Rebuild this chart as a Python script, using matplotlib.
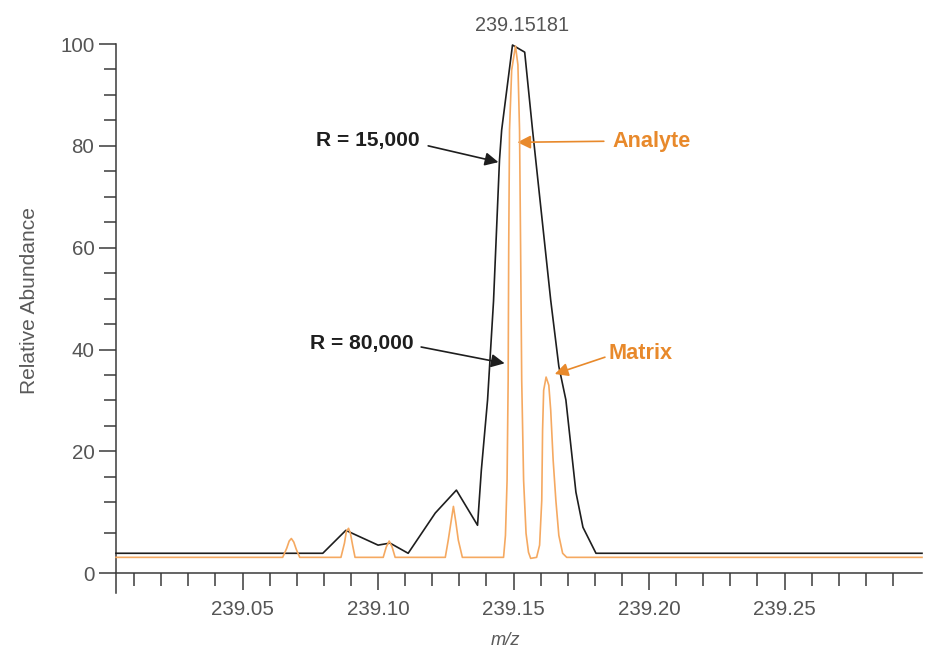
import matplotlib
matplotlib.use("Agg")
import matplotlib.pyplot as plt
from matplotlib import font_manager

# Font: narrow sans if installed, otherwise plain Liberation Sans a bit smaller
available = {f.name for f in font_manager.fontManager.ttflist}
if "Liberation Sans Narrow" in available:
    FONT, SCALE = "Liberation Sans Narrow", 1.0
else:
    FONT, SCALE = "Liberation Sans", 0.82
plt.rcParams["font.family"] = [FONT, "DejaVu Sans"]

# R = 15,000 trace (black)
mz_low = [239.0033, 239.0796, 239.0881, 239.1000, 239.1044, 239.1111, 239.1211,
          239.1289, 239.1367, 239.1381, 239.1404, 239.1426, 239.1448, 239.1456,
          239.1496, 239.1541, 239.1570, 239.1637, 239.1667, 239.1693, 239.1730,
          239.1756, 239.1804, 239.3007]
ab_low = [0.0, 0.0, 4.5, 1.6, 2.0, 0.0, 7.9,
          12.4, 5.5, 16.3, 30.1, 49.5, 77.2, 83.1,
          99.8, 98.4, 83.1, 49.7, 36.7, 30.1, 12.0,
          5.1, 0.0, 0.0]

# R = 80,000 trace (orange)
mz_high = [239.0033,
           239.0648, 239.0663, 239.0672, 239.0680, 239.0689, 239.0698, 239.0711,
           239.0863, 239.0876, 239.0883, 239.0891, 239.0898, 239.0906, 239.0915,
           239.1019, 239.1030, 239.1041, 239.1052, 239.1063,
           239.1248, 239.1259, 239.1269, 239.1278, 239.1287, 239.1296, 239.1311,
           239.1463, 239.1470, 239.1476, 239.1480, 239.1482, 239.1485, 239.1493,
           239.1507, 239.1516, 239.1522, 239.1526, 239.1530, 239.1537, 239.1546,
           239.1555, 239.1563,
           239.1585, 239.1596, 239.1604, 239.1607, 239.1611, 239.1620, 239.1630,
           239.1637, 239.1646, 239.1656, 239.1667, 239.1681, 239.1696,
           239.3007]
ab_high = [-0.8,
           -0.8, 1.0, 2.4, 2.9, 2.2, 0.8, -0.8,
           -0.8, 2.0, 4.3, 4.9, 3.9, 1.6, -0.8,
           -0.8, 1.2, 2.4, 1.2, -0.8,
           -0.8, 2.6, 6.1, 9.2, 6.1, 2.6, -0.8,
           -0.8, 3.5, 14.3, 34.0, 59.5, 83.1, 94.9,
           99.6, 95.9, 83.1, 59.5, 34.0, 14.3, 3.9,
           0.2, -1.0,
           -0.8, 1.6, 10.4, 24.2, 32.0, 34.6, 33.0,
           28.1, 18.3, 10.4, 3.5, 0.0, -0.8,
           -0.8]

x_major = [239.05, 239.10, 239.15, 239.20, 239.25]
x_major_labels = ["239.05", "239.10", "239.15", "239.20", "239.25"]
x_minor = [239.01, 239.02, 239.03, 239.04, 239.06, 239.07, 239.08, 239.09,
           239.11, 239.12, 239.13, 239.14, 239.16, 239.17, 239.18, 239.19,
           239.21, 239.22, 239.23, 239.24, 239.26, 239.27, 239.28, 239.29]
y_major = [-3.9, 20, 40, 60, 80, 100]
y_major_labels = ["0", "20", "40", "60", "80", "100"]
y_minor = [4, 10, 15, 25, 30, 35, 45, 50, 55, 65, 70, 75, 85, 90, 95]

peak_label = "239.15181"

colors = {
    "low": "#1e1e1e",
    "high": "#f5a961",
    "orange_text": "#e8892b",
    "axis": "#3a3a3a",
    "tick_text": "#555555",
}

fig = plt.figure(figsize=(9.35, 6.56), dpi=100)
ax = fig.add_axes([116 / 935, 63 / 656, 806 / 935, 549 / 656])

ax.plot(mz_low, ab_low, color=colors["low"], lw=1.2, zorder=3, clip_on=False)
ax.plot(mz_high, ab_high, color=colors["high"], lw=1.2, zorder=4, clip_on=False)

ax.set_xlim(239.0033, 239.3007)
ax.set_ylim(-7.8, 100)

for side in ("top", "right"):
    ax.spines[side].set_visible(False)
ax.spines["bottom"].set_position(("data", -3.9))
for side in ("left", "bottom"):
    ax.spines[side].set_color(colors["axis"])
    ax.spines[side].set_linewidth(1.1)

ax.set_xticks(x_major)
ax.set_xticklabels(x_major_labels)
ax.set_xticks(x_minor, minor=True)
ax.set_yticks(y_major)
ax.set_yticklabels(y_major_labels)
ax.set_yticks(y_minor, minor=True)
ax.tick_params(which="major", direction="out", length=12.5, width=1.1,
               color=colors["axis"], labelcolor=colors["tick_text"],
               labelsize=18 * SCALE)
ax.tick_params(which="minor", direction="out", length=9, width=1.1,
               color=colors["axis"])
ax.tick_params(axis="x", which="major", pad=7)
ax.tick_params(axis="y", which="major", pad=3)

ax.set_ylabel("Relative Abundance", fontsize=18.5 * SCALE, color="#5a5a5a")
ax.yaxis.set_label_coords(-0.0955, 0.532)
ax.set_xlabel("m/z", fontsize=16 * SCALE, style="italic", color="#5a5a5a",
              va="center")
ax.xaxis.set_label_coords(0.4826, -0.0874)

# Peak label
ax.text(239.1530, 103.7, peak_label, ha="center", va="center",
        fontsize=17.5 * SCALE, color="#555555")

# Annotations
black_arrow = dict(arrowstyle="-|>", lw=1.2, color=colors["low"],
                   mutation_scale=20, shrinkA=0, shrinkB=0)
orange_arrow = dict(arrowstyle="-|>", lw=1.2, color=colors["orange_text"],
                    mutation_scale=20, shrinkA=0, shrinkB=0)

ax.text(239.0963, 81.1, "R = 15,000", ha="center", va="center",
        fontsize=18.5 * SCALE, fontweight="bold", color=colors["low"])
ax.annotate("", xy=(239.1444, 76.8), xytext=(239.1185, 80.0),
            arrowprops=black_arrow)

ax.text(239.0941, 41.1, "R = 80,000", ha="center", va="center",
        fontsize=18.5 * SCALE, fontweight="bold", color=colors["low"])
ax.annotate("", xy=(239.1467, 37.3), xytext=(239.1159, 40.5),
            arrowprops=black_arrow)

ax.text(239.1863, 80.9, "Analyte", ha="left", va="center",
        fontsize=19 * SCALE, fontweight="bold", color=colors["orange_text"])
ax.annotate("", xy=(239.1514, 80.7), xytext=(239.1833, 80.9),
            arrowprops=orange_arrow)

ax.text(239.1852, 39.3, "Matrix", ha="left", va="center",
        fontsize=19 * SCALE, fontweight="bold", color=colors["orange_text"])
ax.annotate("", xy=(239.1652, 35.2), xytext=(239.1837, 38.5),
            arrowprops=orange_arrow)

fig.savefig("out.png", dpi=100, facecolor="white")
